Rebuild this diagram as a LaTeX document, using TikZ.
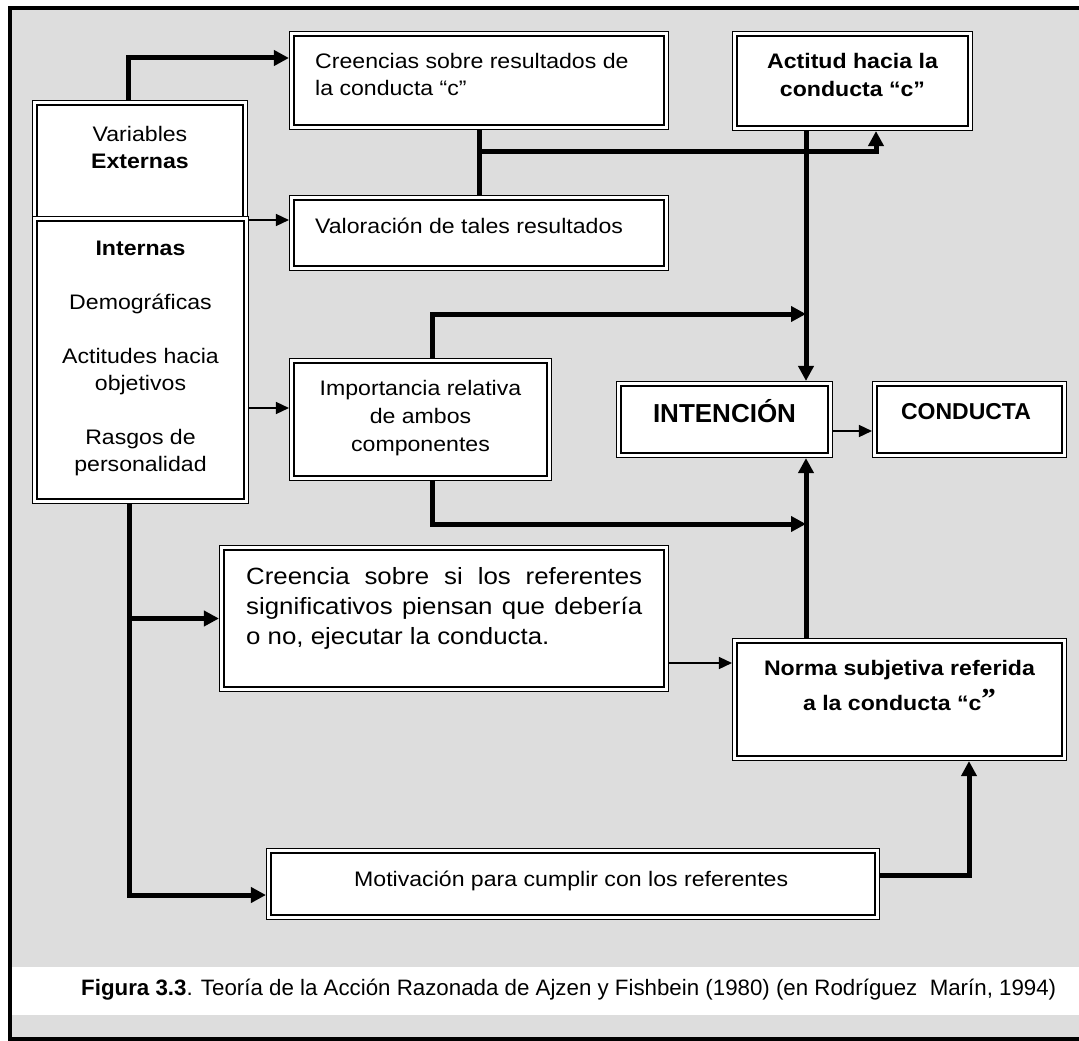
\documentclass[tikz,border=0pt]{standalone}
\usepackage{fontspec}
\setmainfont{Liberation Sans}[FakeStretch=1.1]
\newfontfamily\capsfont{Liberation Sans}
\newfontfamily\quotefont{Liberation Serif}
\usetikzlibrary{arrows.meta}
\definecolor{panel}{RGB}{221,221,221}

\newcommand\bodysize{\fontsize{21}{27}\selectfont}

\tikzset{
  % thin outer rule, white gap, heavier inner rule
  box/.style={fill=white, draw, line width=2.4pt,
    preaction={draw, line width=10pt},
    preaction={draw=white, line width=7.6pt},
    inner sep=0pt, outer sep=5pt},
  txt/.style={inner sep=0pt, font=\bodysize},
  bigarrow/.style={line width=5pt, -{Triangle[length=15pt,width=15pt]}},
  bigline/.style={line width=5pt},
  thinarrow/.style={line width=1.5pt, -{Triangle[length=13pt,width=12pt]}},
}

\begin{document}
\begin{tikzpicture}[x=1pt,y=-1pt]
\useasboundingbox (0,0) rectangle (1079,1041);

% page, grey panel and its frame
\fill[white] (0,0) rectangle (1079,1041);
\fill[panel] (10,8) rectangle (1090,1039.5);
\fill[white] (12,967) rectangle (1090,1015);
\draw[line width=4.5pt] (10,8) rectangle (1090,1039.5);

% boxes
\node[box, minimum width=206.1pt, minimum height=112.1pt] (ext) at (140,161) {};
\node[box, minimum width=207.1pt, minimum height=278.1pt] (int) at (140.5,360) {};
\node[box, minimum width=370.1pt, minimum height=89.1pt] (cre) at (479,80.5) {};
\node[box, minimum width=370.1pt, minimum height=66.1pt] (val) at (479,233) {};
\node[box, minimum width=231.1pt, minimum height=90.1pt] (act) at (852.5,81) {};
\node[box, minimum width=253.1pt, minimum height=113.1pt] (imp) at (420.5,419.5) {};
\node[box, minimum width=207.1pt, minimum height=67.1pt] (intn) at (724.5,419.5) {};
\node[box, minimum width=185.1pt, minimum height=67.1pt] (con) at (969.5,419.5) {};
\node[box, minimum width=440.1pt, minimum height=137.1pt] (crs) at (444,618.5) {};
\node[box, minimum width=325.1pt, minimum height=113.1pt] (nrm) at (899.5,699.5) {};
\node[box, minimum width=604.1pt, minimum height=62.1pt] (mot) at (573,884) {};

% box texts
\node[txt, anchor=north, align=center] (ext-t) at (140,126)
  {Variables\\\textbf{Externas}};
\node[txt, anchor=north, align=center] (int-t) at (140.5,241)
  {\textbf{Internas}\\[27pt]Demográficas\\[27pt]Actitudes hacia\\objetivos\\[27pt]Rasgos de\\personalidad};
\node[txt, anchor=north west, align=left] (cre-t) at (315,53)
  {Creencias sobre resultados de\\la conducta “c”};
\node[txt, anchor=north west] (val-t) at (315,218) {Valoración de tales resultados};
\node[txt, anchor=north, align=center, font=\fontsize{21}{28}\selectfont\bfseries] (act-t) at (852.5,53)
  {Actitud hacia la\\conducta “c”};
\node[txt, anchor=north, align=center, font=\fontsize{21}{28}\selectfont] (imp-t) at (420.5,380)
  {Importancia relativa\\de ambos\\componentes};
\node[txt, anchor=base, font=\capsfont\bfseries\fontsize{26}{30}\selectfont] (intn-t) at (724.5,422.6) {INTENCIÓN};
\node[txt, anchor=base, font=\capsfont\bfseries\fontsize{23}{27}\selectfont] (con-t) at (966,419.5) {CONDUCTA};
\node[txt, anchor=north west, text width=396pt, align=justify, font=\fontsize{23.5}{30}\selectfont] (crs-t) at (246,567)
  {Creencia sobre si los referentes\linebreak significativos piensan que debería\linebreak o no, ejecutar la conducta.};
\node[txt, anchor=north, align=center, font=\fontsize{21}{35}\selectfont\bfseries] (nrm-t) at (899.5,660)
  {Norma subjetiva referida\\a la conducta “c\raisebox{1.5pt}{\quotefont\fontsize{29}{29}\selectfont\bfseries ”}};
\node[txt, anchor=base west] (mot-t) at (354,886) {Motivación para cumplir con los referentes};

% caption
\node[inner sep=0pt, anchor=base west, font=\capsfont\fontsize{22.3}{26}\selectfont] (cap) at (81,995)
  {\textbf{Figura 3.3}. Teoría de la Acción Razonada de Ajzen y Fishbein (1980) (en Rodríguez\ \ Marín, 1994)};

% junction points of the connectors
\coordinate (split) at (248,220);
\coordinate (cvj) at (479,151);
\coordinate (spine) at (806,0);
\coordinate (s1) at (806,314);
\coordinate (s2) at (806,524);
\coordinate (trunk) at (129,504);

% external / internal variables to the beliefs
\draw[bigarrow] ([xshift=-12pt]ext.north) |- ([yshift=22.5pt]cre.west);
\draw[thinarrow] (split) -- (split -| val.west);
\draw[thinarrow] ([yshift=11.5pt]imp.west -| int.east) -- ([yshift=11.5pt]imp.west);

% beliefs and evaluations to attitude
\draw[bigline] (cre.south) -- (val.north);
\draw[bigarrow] (cvj) -| ([xshift=23.5pt]act.south);

% attitude, weights and norm to intention
\draw[bigarrow] (act.south -| spine) -- (intn.north -| spine);
\draw[bigarrow] ([xshift=11.5pt]imp.north) |- (s1);
\draw[bigarrow] ([xshift=11.5pt]imp.south) |- (s2);
\draw[bigarrow] (nrm.north -| spine) -- (intn.south -| spine);
\draw[thinarrow] ([yshift=-11.5pt]intn.east) -- ([yshift=-11.5pt]con.west);

% normative branch
\draw[bigarrow] (trunk) |- ([yshift=-11pt]mot.west);
\draw[bigarrow] (crs.west -| trunk) -- (crs.west);
\draw[thinarrow] ([yshift=36.5pt]nrm.west -| crs.east) -- ([yshift=36.5pt]nrm.west);
\draw[bigarrow] ([yshift=9pt]mot.east) -| ([xshift=69.5pt]nrm.south);
\end{tikzpicture}
\end{document}
